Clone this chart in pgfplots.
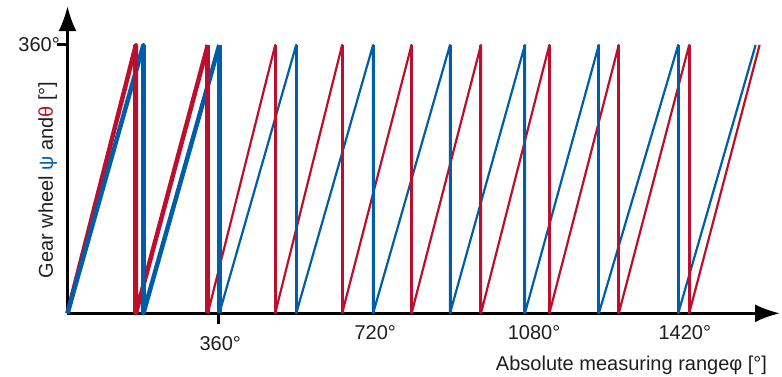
\documentclass[border=0pt]{standalone}
\usepackage{fontspec}
\setmainfont{Liberation Sans}
\usepackage{pgfplots}
\pgfplotsset{compat=1.18}
\usetikzlibrary{arrows.meta}
\definecolor{cred}{RGB}{190,14,46}
\definecolor{cblue}{RGB}{0,94,168}
\definecolor{ctext}{RGB}{30,30,30}
\begin{document}
\fontsize{20}{24}\selectfont
\begin{tikzpicture}
\path[use as bounding box] (-67.5pt,-63.7pt) rectangle (714.5pt,313.3pt);
\begin{axis}[
  at={(0pt,0pt)}, anchor=origin,
  x=0.4189pt, y=0.7453pt,
  xmin=0, xmax=1701, ymin=0, ymax=412.3,
  axis lines=left,
  axis line style={line width=3pt, black, -{Latex[length=25pt,width=18pt]}},
  clip=false,
  tick align=outside,
  major tick length=10.5pt,
  tick style={line width=3pt, black},
  xtick={360}, xticklabels={360°},
  extra x ticks={730,1109,1469},
  extra x tick labels={720°,1080°,1420°},
  extra x tick style={major tick length=0pt},
  ytick={360}, yticklabels={360°},
  xticklabel style={anchor=base, inner sep=0pt, xshift=2pt, yshift=-26.5pt, text=ctext},
  yticklabel style={anchor=east, inner sep=0pt, xshift=3pt, text=ctext},
  xlabel={Absolute measuring rangeφ [°]},
  ylabel={Gear wheel {\color{cblue}ψ} and{\color{cred}θ} [°]},
  xlabel style={at={(axis description cs:0.7916,0)}, anchor=base, inner sep=0pt, yshift=-57.7pt, text=ctext},
  ylabel style={at={(axis description cs:-0.0204,0.4338)}, anchor=base, inner sep=0pt, text=ctext},
  /pgf/number format/assume math mode=true,
]
% red diagonals (thick first teeth)
\addplot[cred, line width=4.5pt, line join=round] coordinates {
 (0,0) (163.3,360) (163.3,0) (335,360)};
% blue diagonals (thick first teeth)
\addplot[cblue, line width=4.5pt, line join=round] coordinates {
 (0,0) (181.2,360) (181.2,0) (362.4,360)};
% red thin sawtooth
\addplot[cred, line width=2.2pt, line join=round] coordinates {
 (335,0) (495.9,360) (495.9,0) (655.6,360) (655.6,0) (821.3,360) (821.3,0)
 (987,360) (987,0) (1150.3,360) (1150.3,0) (1316,360) (1316,0) (1484.1,360)
 (1484.1,0) (1652.2,360)};
% blue thin sawtooth
\addplot[cblue, line width=2.2pt, line join=round] coordinates {
 (362.4,0) (546,360) (546,0) (729.5,360) (729.5,0) (913.1,360) (913.1,0)
 (1091.9,360) (1091.9,0) (1268.4,360) (1268.4,0) (1457.9,360) (1457.9,0)
 (1642.7,360)};
% verticals
\addplot[ycomb, cred, line width=5pt] coordinates {(163.3,360) (335,360)};
\addplot[ycomb, cblue, line width=5pt] coordinates {(181.2,360) (362.4,360)};
\addplot[ycomb, cred, line width=3pt] coordinates {
 (495.9,360) (655.6,360) (821.3,360) (987,360) (1150.3,360) (1316,360) (1484.1,360)};
\addplot[ycomb, cblue, line width=3pt] coordinates {
 (546,360) (729.5,360) (913.1,360) (1091.9,360) (1268.4,360) (1457.9,360)};
\end{axis}
\end{tikzpicture}
\end{document}
